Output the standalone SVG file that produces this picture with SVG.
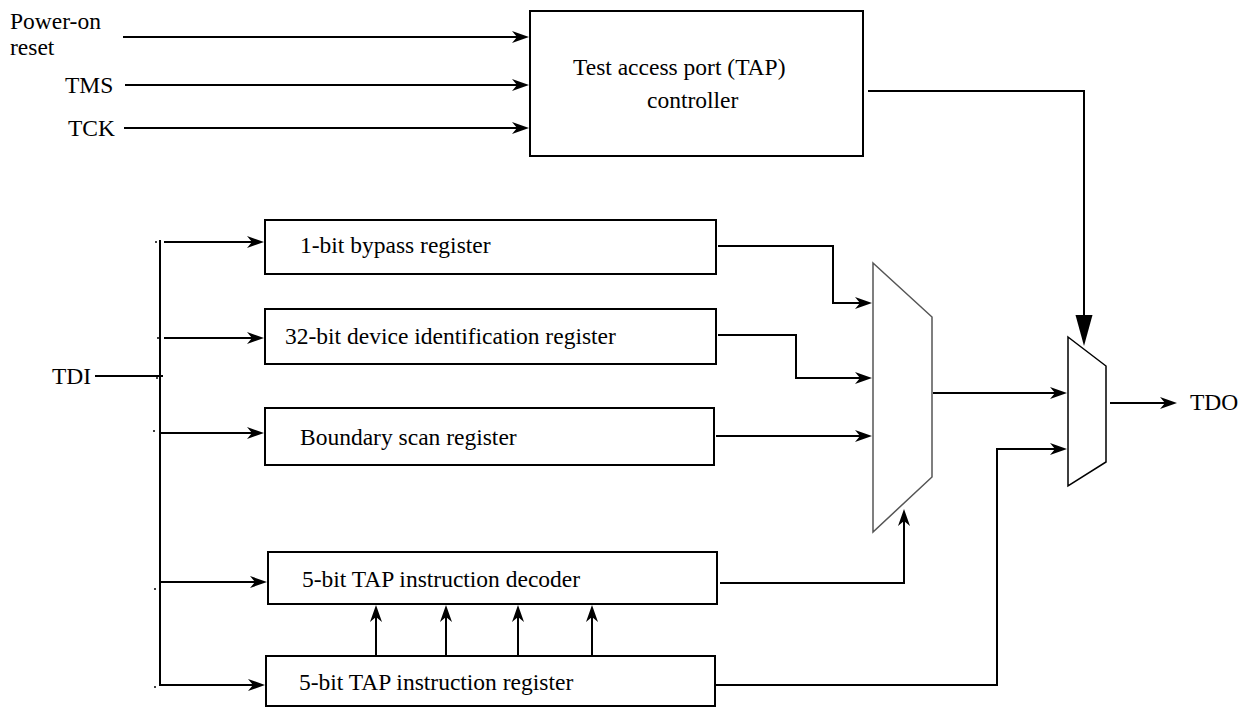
<svg xmlns="http://www.w3.org/2000/svg" width="1247" height="708" viewBox="0 0 1247 708">
<style>
.box{fill:#fff;stroke:#000;stroke-width:2}
.mux{fill:#fff;stroke-width:1.5}
.t{font-family:"Liberation Serif","Times New Roman",serif;font-size:23.5px;fill:#000}
.w{fill:none;stroke:#000;stroke-width:2}
.ar{fill:none;stroke:#000;stroke-width:2;marker-end:url(#a)}
</style>
<defs>
<marker id="a" markerUnits="userSpaceOnUse" markerWidth="18" markerHeight="14" refX="12" refY="7" orient="auto" overflow="visible">
<path d="M0,1 L17,7 L0,13 L5,7 Z" fill="#000"/>
</marker>
<marker id="big" markerUnits="userSpaceOnUse" markerWidth="32" markerHeight="18" refX="1" refY="8.5" orient="auto" overflow="visible">
<path d="M0,0 L31,8.5 L0,17 Z" fill="#000"/>
</marker>
</defs>
<rect width="1247" height="708" fill="#fff"/>

<g id="labels">
<text class="t" x="10" y="29">Power-on</text>
<text class="t" x="10" y="55">reset</text>
<text class="t" x="65" y="93">TMS</text>
<text class="t" x="68" y="136">TCK</text>
<text class="t" x="52" y="384">TDI</text>
<text class="t" x="1190" y="410">TDO</text>
</g>

<g id="tap">
<rect class="box" x="530" y="11" width="333" height="145"/>
<text class="t" x="573" y="75">Test access port (TAP)</text>
<text class="t" x="647" y="108">controller</text>
</g>
<g id="bypass">
<rect class="box" x="265" y="220" width="451" height="54"/>
<text class="t" x="300" y="253">1-bit bypass register</text>
</g>
<g id="deviceid">
<rect class="box" x="265" y="309" width="451" height="55"/>
<text class="t" x="285" y="344">32-bit device identification register</text>
</g>
<g id="boundary">
<rect class="box" x="265" y="408" width="449" height="57"/>
<text class="t" x="300" y="445">Boundary scan register</text>
</g>
<g id="decoder">
<rect class="box" x="268" y="552" width="449" height="52"/>
<text class="t" x="302" y="587">5-bit TAP instruction decoder</text>
</g>
<g id="ireg">
<rect class="box" x="266" y="656" width="449" height="50"/>
<text class="t" x="299" y="690">5-bit TAP instruction register</text>
</g>
<g id="mux1">
<polygon class="mux" stroke="#555" points="873,263 932,317 932,477 873,532"/>
</g>
<g id="mux2">
<polygon class="mux" stroke="#000" points="1068,337 1106,366 1106,462 1068,486"/>
</g>

<g id="connectors">
<path class="ar" d="M123,37 H524"/>
<path class="ar" d="M125,85 H524"/>
<path class="ar" d="M124,128 H524"/>
<path class="w" d="M868,91 H1084 V316" marker-end="url(#big)"/>
<path class="w" d="M95,376 H163"/>
<path class="w" d="M160,240 V686"/>
<path class="ar" d="M164,242 H259"/>
<path class="ar" d="M164,338 H259"/>
<path class="ar" d="M161,433 H259"/>
<path class="ar" d="M161,582 H262"/>
<path class="ar" d="M161,685 H260"/>
<path class="ar" d="M718,246 H833 V303 H867"/>
<path class="ar" d="M718,335 H796 V378 H867"/>
<path class="ar" d="M716,436 H867"/>
<path class="ar" d="M933,393 H1062"/>
<path class="ar" d="M720,583 H904 V514"/>
<path class="ar" d="M716,685 H997 V449 H1062"/>
<path class="ar" d="M1110,403 H1172"/>
<path class="ar" d="M376,656 V610"/>
<path class="ar" d="M446,656 V610"/>
<path class="ar" d="M518,656 V610"/>
<path class="ar" d="M592,656 V610"/>
<g fill="#000">
<circle cx="156" cy="242" r="1"/>
<circle cx="158" cy="338" r="1"/>
<circle cx="157" cy="378" r="1"/>
<circle cx="154" cy="431" r="1"/>
<circle cx="155" cy="589" r="1"/>
<circle cx="155" cy="687" r="1"/>
</g>
</g>
</svg>
